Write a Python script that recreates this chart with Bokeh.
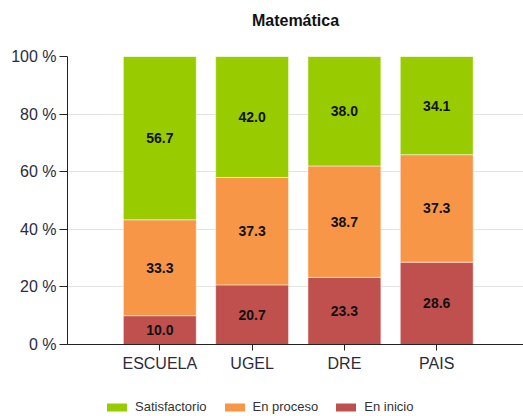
from bokeh.plotting import figure
from bokeh.layouts import column
from bokeh.models import ColumnDataSource, FixedTicker, Legend, LegendItem
from bokeh.core.properties import value
from bokeh.embed import file_html
from bokeh.resources import INLINE

categories = ["ESCUELA", "UGEL", "DRE", "PAIS"]
en_inicio = [10.0, 20.7, 23.3, 28.6]
en_proceso = [33.3, 37.3, 38.7, 37.3]
satisfactorio = [56.7, 42.0, 38.0, 34.1]
y_ticks = [0, 20, 40, 60, 80, 100]
y_tick_labels = ["0 %", "20 %", "40 %", "60 %", "80 %", "100 %"]
series_names = ["En inicio", "En proceso", "Satisfactorio"]
colors = ["#C0504D", "#F79646", "#99CC00"]

FONT = "Liberation Sans"
xs = list(range(len(categories)))

src = ColumnDataSource(dict(
    x=xs, inicio=en_inicio, proceso=en_proceso, satis=satisfactorio,
))

p = figure(width=523, height=392, x_range=(-1.0, 3.94), y_range=(0, 100),
           output_backend="svg", toolbar_location=None,
           min_border_left=67, min_border_right=0, min_border_top=56,
           min_border_bottom=48)

p.title.text = "Matemática\n"
p.title.align = "center"
p.title.text_font = FONT
p.title.text_font_size = "16px"
p.title.text_font_style = "bold"
p.title.text_line_height = 1.3
p.title.text_color = "#111111"

rs = p.vbar_stack(["inicio", "proceso", "satis"], x="x", width=0.79, source=src,
                  color=colors, line_color="white", line_alpha=0.5, line_width=1)

# data labels at segment centres
lx, ly, lt = [], [], []
for i in xs:
    base = 0.0
    for vals in (en_inicio, en_proceso, satisfactorio):
        v = vals[i]
        lx.append(i)
        ly.append(base + v / 2)
        lt.append(f"{v:.1f}")
        base += v
p.text(x=lx, y=ly, text=lt, text_align="center", text_baseline="middle",
       text_font=value(FONT), text_font_size="14px", text_font_style="bold",
       text_color="#111111")

# axes
p.xaxis.ticker = FixedTicker(ticks=xs)
p.xaxis.major_label_overrides = {i: c for i, c in zip(xs, categories)}
p.yaxis.ticker = FixedTicker(ticks=y_ticks)
p.yaxis.major_label_overrides = {t: l for t, l in zip(y_ticks, y_tick_labels)}
for ax in (p.xaxis, p.yaxis):
    ax.major_label_text_font = FONT
    ax.major_label_text_font_size = "16px"
    ax.major_label_text_color = "#2b2b3b"
    ax.axis_line_color = "#222222"
    ax.major_tick_line_color = "#222222"
    ax.major_tick_in = 0
    ax.minor_tick_line_color = None
p.yaxis.major_tick_out = 8
p.xaxis.major_tick_out = 6
p.yaxis.major_label_standoff = 3
p.xaxis.major_label_standoff = 4

p.xgrid.grid_line_color = None
p.ygrid.grid_line_color = "#e3e3e3"
p.ygrid.ticker = FixedTicker(ticks=y_ticks)
p.outline_line_color = None

# legend strip below the chart (zero-height proxy bars carry the colours)
p2 = figure(width=523, height=24, x_range=(0, 1), y_range=(0, 1),
            output_backend="svg", toolbar_location=None,
            x_axis_location=None, y_axis_location=None,
            min_border_left=0, min_border_right=0, min_border_top=0,
            min_border_bottom=0)
p2.grid.grid_line_color = None
p2.outline_line_color = None
proxy = ColumnDataSource(dict(x=[0.5], top=[0.0], bottom=[0.0]))
dummies = [p2.vbar(x="x", top="top", bottom="bottom", width=0.01, source=proxy,
                   fill_color=c, line_alpha=0) for c in colors]

items = [LegendItem(label=series_names[k], renderers=[dummies[k]]) for k in (2, 1, 0)]
legend = Legend(items=items, orientation="horizontal", location=(37, 2),
                glyph_width=25, glyph_height=10, label_text_font=FONT,
                label_text_font_size="13px", label_text_color="#333333",
                border_line_color=None, background_fill_alpha=0,
                spacing=15, padding=2, margin=0, label_standoff=6,
                label_height=12)
p2.add_layout(legend, "center")

open("out.html", "w").write(file_html(column(p, p2, spacing=0), INLINE))
